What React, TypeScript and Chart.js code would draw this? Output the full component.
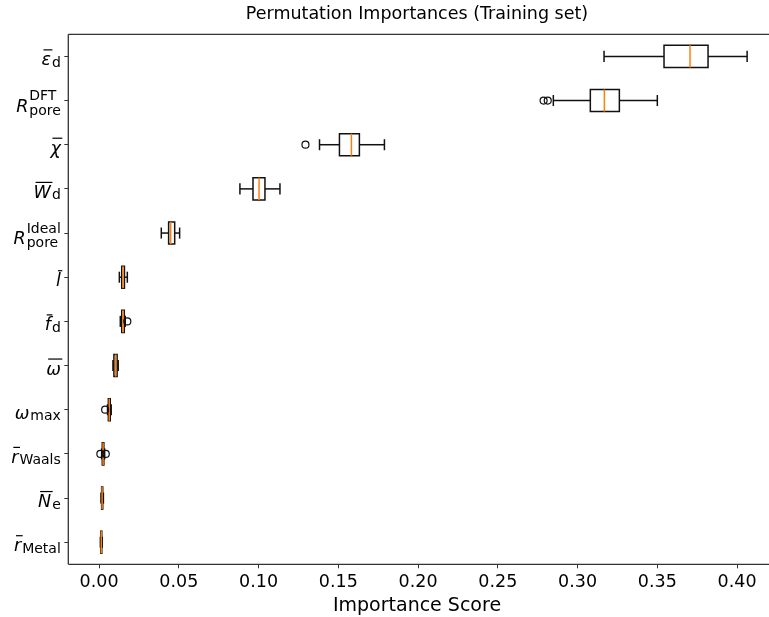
import { useEffect, useRef } from 'react';
import { Chart, registerables } from 'chart.js';
Chart.register(...registerables);

// Feature labels (top to bottom)
const labelBase = ['ε', 'R', 'χ', 'W', 'R', 'l', 'f', 'ω', 'ω', 'r', 'N', 'r'];
const labelBar = [true, false, true, true, false, true, true, true, false, true, true, true];
const labelSub = ['d', 'pore', '', 'd', 'pore', '', 'd', '', 'max', 'Waals', 'e', 'Metal'];
const labelSup = ['', 'DFT', '', '', 'Ideal', '', '', '', '', '', '', ''];

// Box statistics (top to bottom)
const whiskerLow = [0.3166, 0.2848, 0.1382, 0.0883, 0.0390, 0.0127, 0.0133, 0.0087, 0.0053, 0.0016, 0.0012, 0.0008];
const q1 = [0.3542, 0.3080, 0.1507, 0.0965, 0.0436, 0.0142, 0.0142, 0.0093, 0.0058, 0.0020, 0.0016, 0.0011];
const median = [0.3705, 0.3168, 0.1582, 0.1003, 0.0449, 0.0150, 0.0150, 0.0104, 0.0064, 0.0025, 0.0019, 0.0014];
const q3 = [0.3818, 0.3262, 0.1632, 0.1040, 0.0474, 0.0159, 0.0158, 0.0113, 0.0070, 0.0030, 0.0023, 0.0017];
const whiskerHigh = [0.4063, 0.3500, 0.1789, 0.1134, 0.0505, 0.0177, 0.0164, 0.0120, 0.0076, 0.0035, 0.0027, 0.0020];
const outliers: number[][] = [[], [0.2787, 0.2813], [0.1294], [], [], [], [0.0177], [], [0.0038], [0.0008, 0.0042], [], []];

const xTicks = [0, 0.05, 0.1, 0.15, 0.2, 0.25, 0.3, 0.35, 0.4];
const xMin = -0.0193;
const xMax = 0.4266;

const titleText = 'Permutation Importances (Training set)';
const xTitleText = 'Importance Score';

const FONT = '"DejaVu Sans", sans-serif';

function drawMathLabel(ctx: CanvasRenderingContext2D, i: number, xRight: number, yTick: number) {
  const mainSize = 17.5;
  const subSize = 14;
  const mainFont = `italic ${mainSize}px ${FONT}`;
  const subFont = `${subSize}px ${FONT}`;
  ctx.font = mainFont;
  const bw = ctx.measureText(labelBase[i]).width;
  ctx.font = subFont;
  const sw = labelSub[i] ? ctx.measureText(labelSub[i]).width : 0;
  const pw = labelSup[i] ? ctx.measureText(labelSup[i]).width : 0;
  const gap = labelSub[i] || labelSup[i] ? 1 : 0;
  const total = bw + gap + Math.max(sw, pw);
  const x0 = xRight - total;
  const baseline = yTick + (labelSup[i] ? 11 : 9);
  ctx.fillStyle = '#000';
  ctx.textAlign = 'left';
  ctx.textBaseline = 'alphabetic';
  ctx.font = mainFont;
  ctx.fillText(labelBase[i], x0, baseline);
  ctx.font = subFont;
  if (labelSub[i]) ctx.fillText(labelSub[i], x0 + bw + gap, baseline + (labelSup[i] ? 3.3 : 1.5));
  if (labelSup[i]) ctx.fillText(labelSup[i], x0 + bw + gap, baseline - 11.3);
  if (labelBar[i]) {
    ctx.strokeStyle = '#000';
    ctx.lineWidth = 1.2;
    ctx.beginPath();
    ctx.moveTo(x0 + 2, baseline - 15.5);
    ctx.lineTo(x0 + bw + 1.5, baseline - 15.5);
    ctx.stroke();
  }
}

function segment(ctx: CanvasRenderingContext2D, x1: number, y1: number, x2: number, y2: number) {
  ctx.beginPath();
  ctx.moveTo(x1, y1);
  ctx.lineTo(x2, y2);
  ctx.stroke();
}

const boxPlugin = {
  id: 'boxes',
  beforeDatasetsDraw(chart: any) {
    const ctx: CanvasRenderingContext2D = chart.ctx;
    const xs = chart.scales.x;
    const ys = chart.scales.y;
    const unit = Math.abs(ys.getPixelForValue(2) - ys.getPixelForValue(1));
    const half = unit * 0.25;
    const cap = unit * 0.125;
    ctx.save();
    ctx.lineWidth = 1.5;
    for (let i = 0; i < labelBase.length; i++) {
      const yc = ys.getPixelForValue(i + 1);
      const xl = xs.getPixelForValue(whiskerLow[i]);
      const x1 = xs.getPixelForValue(q1[i]);
      const xm = xs.getPixelForValue(median[i]);
      const x3 = xs.getPixelForValue(q3[i]);
      const xh = xs.getPixelForValue(whiskerHigh[i]);
      ctx.strokeStyle = '#111';
      segment(ctx, xl, yc, x1, yc);
      segment(ctx, x3, yc, xh, yc);
      segment(ctx, xl, yc - cap, xl, yc + cap);
      segment(ctx, xh, yc - cap, xh, yc + cap);
      ctx.beginPath();
      ctx.rect(x1, yc - half, x3 - x1, half * 2);
      ctx.stroke();
      ctx.strokeStyle = '#ff7f0e';
      segment(ctx, xm, yc - half, xm, yc + half);
    }
    ctx.restore();
  },
  afterDraw(chart: any) {
    const ctx: CanvasRenderingContext2D = chart.ctx;
    const a = chart.chartArea;
    const ys = chart.scales.y;
    const farRight = chart.width + 10;
    ctx.save();
    ctx.strokeStyle = '#333';
    ctx.lineWidth = 1.3;
    segment(ctx, a.left, a.top, farRight, a.top);
    segment(ctx, a.left, a.top, a.left, a.bottom);
    segment(ctx, a.left, a.bottom, farRight, a.bottom);
    for (let i = 0; i < labelBase.length; i++) {
      drawMathLabel(ctx, i, a.left - 7.5, ys.getPixelForValue(i + 1));
    }
    ctx.fillStyle = '#000';
    ctx.textAlign = 'center';
    ctx.textBaseline = 'middle';
    ctx.font = `17.5px ${FONT}`;
    ctx.fillText(titleText, 417, 14);
    ctx.font = `19px ${FONT}`;
    ctx.fillText(xTitleText, 417, 606);
    ctx.restore();
  },
};

export default function App() {
  const ref = useRef<HTMLCanvasElement | null>(null);
  useEffect(() => {
    if (!ref.current) return;
    const outlierData = outliers.flatMap((arr, i) => arr.map((v) => ({ x: v, y: i + 1 })));
    const chart = new Chart(ref.current, {
      type: 'scatter',
      data: {
        datasets: [
          {
            data: outlierData,
            pointStyle: 'circle',
            pointRadius: 3.5,
            pointHoverRadius: 3.5,
            borderColor: '#111',
            borderWidth: 1.2,
            backgroundColor: 'rgba(0,0,0,0)',
          },
        ],
      },
      options: {
        animation: false,
        responsive: false,
        events: [],
        layout: { padding: { top: 34.3, right: 10.5, left: 0, bottom: 0 } },
        plugins: { legend: { display: false }, tooltip: { enabled: false }, title: { display: false } },
        scales: {
          x: {
            type: 'linear',
            min: xMin,
            max: xMax,
            afterBuildTicks: (s: any) => {
              s.ticks = xTicks.map((v) => ({ value: v }));
            },
            afterFit: (s: any) => {
              s.height = 52.7;
            },
            ticks: {
              callback: (v: any) => Number(v).toFixed(2),
              font: { family: FONT, size: 17.5 },
              color: '#000',
              padding: 4,
              maxRotation: 0,
              autoSkip: false,
            },
            grid: { drawOnChartArea: false, drawTicks: true, tickLength: 4, color: '#333', lineWidth: 1 },
            border: { display: false },
          },
          y: {
            type: 'linear',
            reverse: true,
            min: 0.5,
            max: 12.5,
            afterBuildTicks: (s: any) => {
              s.ticks = labelBase.map((_, i) => ({ value: i + 1 }));
            },
            afterFit: (s: any) => {
              s.width = 68.3;
            },
            ticks: { callback: () => '', autoSkip: false },
            grid: { drawOnChartArea: false, drawTicks: true, tickLength: 4, color: '#333', lineWidth: 1 },
            border: { display: false },
          },
        },
      },
      plugins: [boxPlugin],
    });
    return () => chart.destroy();
  }, []);
  return (
    <div style={{ position: 'fixed', left: 0, top: 0, width: 769, height: 617, overflow: 'hidden', background: '#fff' }}>
      <canvas ref={ref} width={790} height={617} style={{ display: 'block', width: 790, height: 617 }} />
    </div>
  );
}
